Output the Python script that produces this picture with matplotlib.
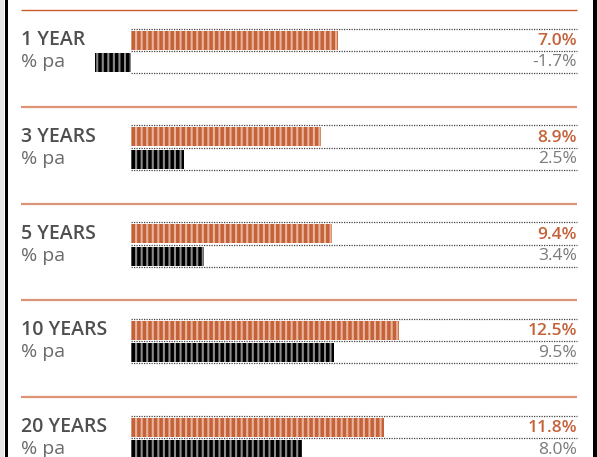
import matplotlib
matplotlib.use("Agg")
import matplotlib.pyplot as plt
from matplotlib.patches import Rectangle

# data
periods = ["1 YEAR", "3 YEARS", "5 YEARS", "10 YEARS", "20 YEARS"]
fund_bar = [9.65, 8.9, 9.4, 12.5, 11.8]      # bar lengths as drawn
index_bar = [-1.7, 2.5, 3.4, 9.5, 8.0]
fund_labels = ["7.0%", "8.9%", "9.4%", "12.5%", "11.8%"]
index_labels = ["-1.7%", "2.5%", "3.4%", "9.5%", "8.0%"]

W, H = 597, 457
ZERO_PX = 131.0
PX_PER_PCT = 21.4
RIGHT_PX = 577
STEP = 96.8

orange = "#c4623a"
orange_light = "#e9b49b"
sep_col = "#dc9479"
title_col = "#4f4f4f"
sub_col = "#6a6a6a"
val_gray = "#7a7a7a"

plt.rcParams["font.family"] = ["Open Sans", "DejaVu Sans"]
plt.rcParams["hatch.linewidth"] = 1.5


def px(x):
    return (x - ZERO_PX) / PX_PER_PCT


fig = plt.figure(figsize=(W / 100, H / 100), dpi=100)
ax = fig.add_axes([0, 0, 1, 1])
ax.set_xlim(px(0), px(W))
ax.set_ylim(H, 0)
ax.axis("off")

# frame: light strip + black rules left and right
ax.add_patch(Rectangle((px(0), 0), px(4) - px(0), H, color="#e6e6e6", lw=0))
ax.add_patch(Rectangle((px(5), 0), px(8) - px(5), H, color="black", lw=0))
ax.add_patch(Rectangle((px(593), 0), px(597) - px(593), H, color="black", lw=0))

for i, name in enumerate(periods):
    y0 = 10 + STEP * i
    ax.plot([px(21), px(RIGHT_PX)], [y0, y0], color=sep_col if i else "#cc5b2c",
            lw=1.6 if i else 1.0, solid_capstyle="butt")

    # dotted guide lines
    for dy in (18.5, 41, 63):
        ax.plot([px(ZERO_PX), px(RIGHT_PX)], [y0 + dy, y0 + dy], color="#444444",
                lw=0.9, ls=(0, (1, 1)))

    ax.barh(y0 + 30, fund_bar[i], height=19, left=0, color=orange,
            edgecolor=orange_light, hatch="|||", lw=0)
    ax.barh(y0 + 52.5, index_bar[i], height=19, left=0, color="black",
            edgecolor="#8a8a8a", hatch="|||", lw=0)

    ax.text(px(21), y0 + 30, name, fontsize=14, fontweight="semibold",
            color=title_col, va="center", ha="left")
    ax.text(px(21), y0 + 52, "% pa", fontsize=14, color=sub_col,
            va="center", ha="left")
    ax.text(px(RIGHT_PX), y0 + 31, fund_labels[i], fontsize=12.5,
            fontweight="semibold", color=orange, va="center", ha="right")
    ax.text(px(RIGHT_PX), y0 + 52.5, index_labels[i], fontsize=12.5,
            color=val_gray, va="center", ha="right")

fig.savefig("out.png", dpi=100)
